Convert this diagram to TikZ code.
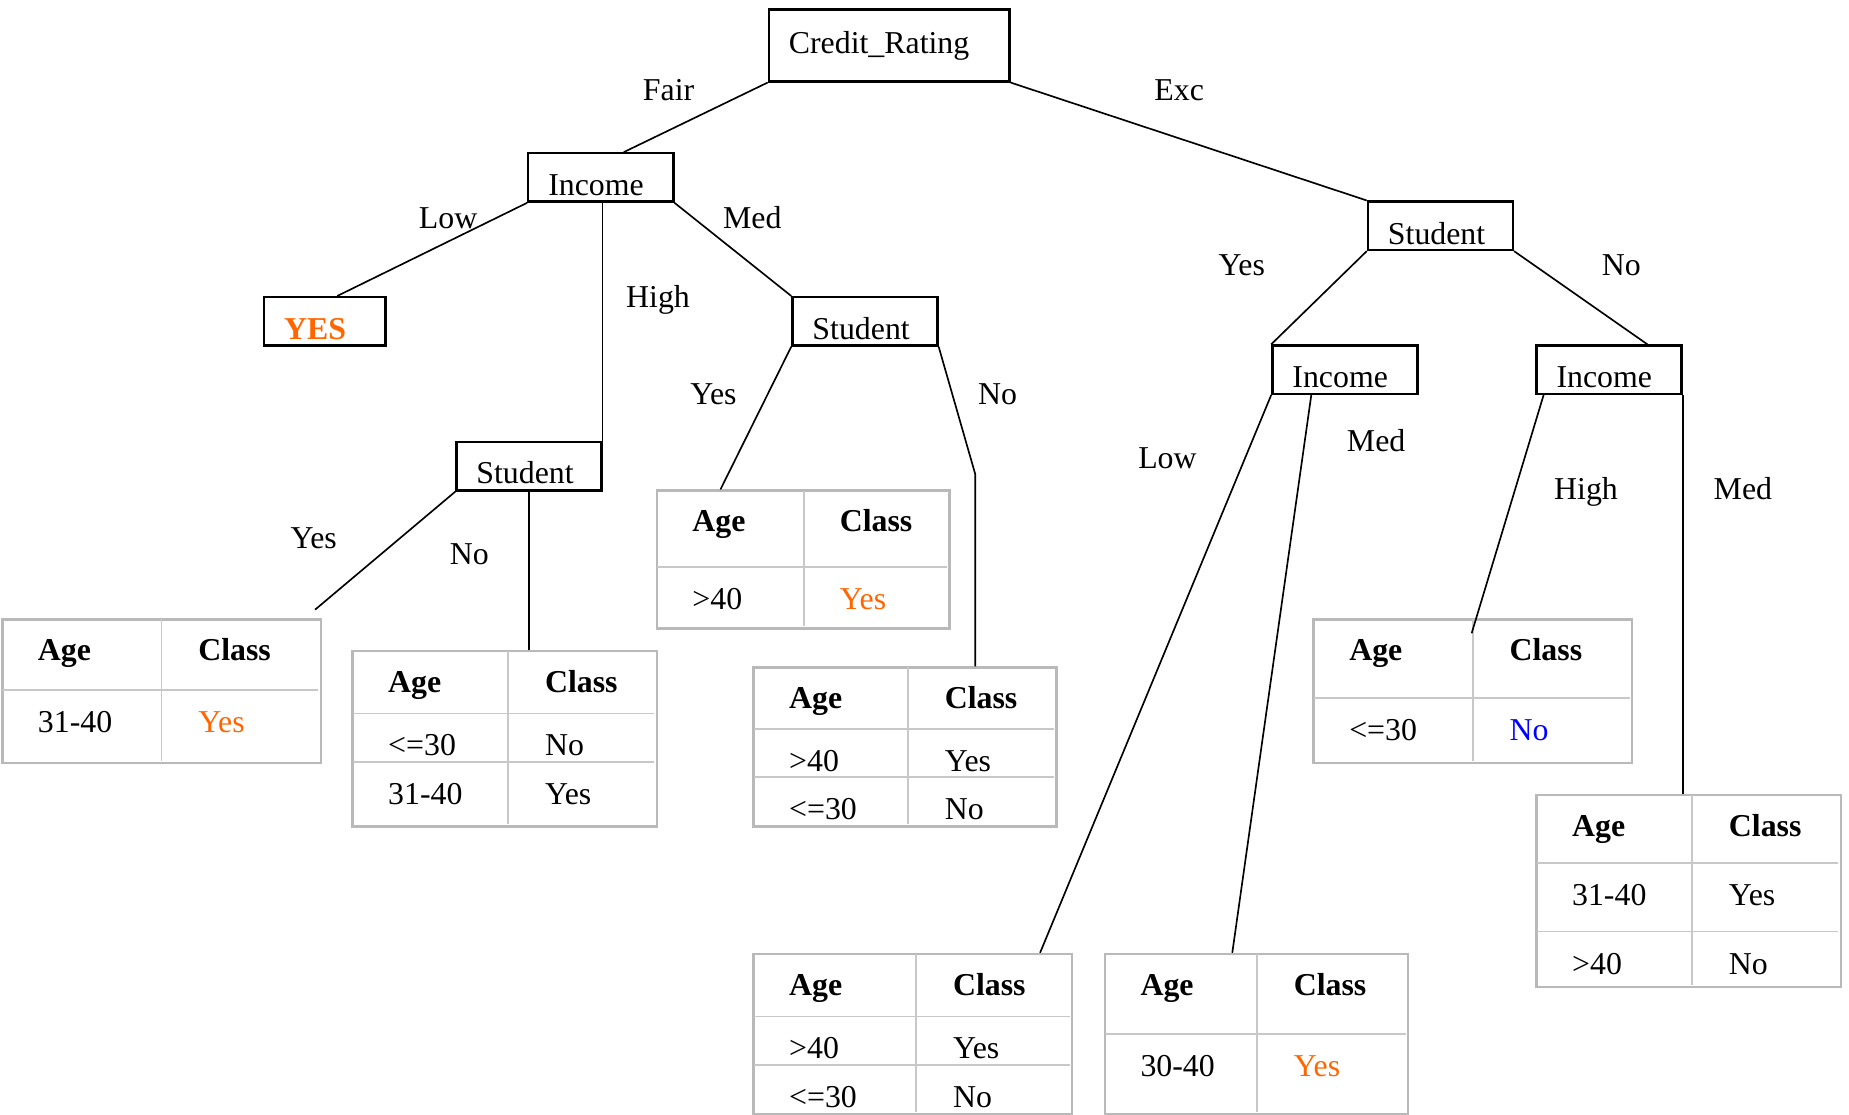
\documentclass[tikz,border=0pt]{standalone}
\usepackage{fontspec}
\setmainfont{Liberation Serif}
\usetikzlibrary{calc}
\definecolor{orng}{RGB}{255,102,0}
\definecolor{blu}{RGB}{0,0,255}
\definecolor{tgray}{RGB}{185,185,185}
\definecolor{tgrayl}{RGB}{200,200,200}
\tikzset{
  box/.style={draw, line width=2pt, inner xsep=17pt, inner ysep=0pt, anchor=base west, align=left},
  edge/.style={line width=1.4pt},
  lbl/.style={anchor=base, inner sep=0pt},
  tbl/.style={draw=tgray, line width=2.2pt, inner sep=0pt, anchor=north west},
  tline/.style={draw=tgrayl, line width=1.3pt},
  cell/.style={anchor=base west, inner sep=0pt},
  hdr/.style={cell, font=\fontsize{27}{32}\selectfont\bfseries},
}
\begin{document}
\begin{tikzpicture}[x=1pt, y=-1pt, font=\fontsize{27}{32}\selectfont]
\useasboundingbox (0,0) rectangle (1568,945);
% decision boxes
\node[box, text width=170pt, text height=37pt, text depth=24pt] (cr) at (651,45) {Credit\_Rating};
\node[box, text width=89pt, text height=36pt, text depth=5pt] (inc1) at (447,166) {Income};
\node[box, text width=69pt, text height=36pt, text depth=5pt, text=orng, font=\fontsize{27}{32}\selectfont\bfseries] (yes) at (223,288) {YES};
\node[box, text width=89pt, text height=36pt, text depth=5pt] (stu1) at (671,288) {Student};
\node[box, text width=89pt, text height=35pt, text depth=6pt] (stu2) at (386,410) {Student};
\node[box, text width=89pt, text height=36pt, text depth=5pt] (stu3) at (1159,207) {Student};
\node[box, text width=89pt, text height=36pt, text depth=5pt] (inc2) at (1078,329) {Income};
\node[box, text width=89pt, text height=36pt, text depth=5pt] (inc3) at (1302,329) {Income};

% tables
\node[tbl, minimum width=270pt, minimum height=122pt] (t1) at (1,524) {};
\node[tbl, minimum width=258pt, minimum height=149pt] (t2) at (298,551) {};
\node[tbl, minimum width=248pt, minimum height=117pt] (t3) at (556,415) {};
\node[tbl, minimum width=257pt, minimum height=135pt] (t4) at (638,565) {};
\node[tbl, minimum width=270pt, minimum height=136pt] (t5) at (638,808) {};
\node[tbl, minimum width=257pt, minimum height=136pt] (t6) at (936,808) {};
\node[tbl, minimum width=270pt, minimum height=122pt] (t7) at (1113,524) {};
\node[tbl, minimum width=258pt, minimum height=163pt] (t8) at (1302,673) {};

% table inner lines
\draw[tline] (137,525) -- (137,645) (2,585) -- (270,585);
\draw[tline] (431,552) -- (431,699) (299,605) -- (555,605) (299,646) -- (555,646);
\draw[tline] (682,416) -- (682,531) (557,481) -- (803,481);
\draw[tline] (770,566) -- (770,699) (639,618) -- (894,618) (639,659) -- (894,659);
\draw[tline] (777,809) -- (777,943) (639,862) -- (907,862) (639,903) -- (907,903);
\draw[tline] (1066,809) -- (1066,943) (937,877) -- (1192,877);
\draw[tline] (1249,525) -- (1249,645) (1114,592) -- (1382,592);
\draw[tline] (1435,674) -- (1435,835) (1303,732) -- (1559,732) (1303,790) -- (1559,790);

% table texts
\node[hdr] (t1a) at (32,560) {Age};
\node[hdr] (t1b) at (168,560) {Class};
\node[cell] (t1c) at (32,621) {31-40};
\node[cell, text=orng] (t1d) at (168,621) {Yes};

\node[hdr] (t2a) at (329,587) {Age};
\node[hdr] (t2b) at (462,587) {Class};
\node[cell] (t2c) at (329,641) {<=30};
\node[cell] (t2d) at (462,641) {No};
\node[cell] (t2e) at (329,682) {31-40};
\node[cell] (t2f) at (462,682) {Yes};

\node[hdr] (t3a) at (587,451) {Age};
\node[hdr] (t3b) at (712,451) {Class};
\node[cell] (t3c) at (587,517) {>40};
\node[cell, text=orng] (t3d) at (712,517) {Yes};

\node[hdr] (t4a) at (669,601) {Age};
\node[hdr] (t4b) at (801,601) {Class};
\node[cell] (t4c) at (669,654) {>40};
\node[cell] (t4d) at (801,654) {Yes};
\node[cell] (t4e) at (669,695) {<=30};
\node[cell] (t4f) at (801,695) {No};

\node[hdr] (t5a) at (669,844) {Age};
\node[hdr] (t5b) at (808,844) {Class};
\node[cell] (t5c) at (669,898) {>40};
\node[cell] (t5d) at (808,898) {Yes};
\node[cell] (t5e) at (669,939) {<=30};
\node[cell] (t5f) at (808,939) {No};

\node[hdr] (t6a) at (967,844) {Age};
\node[hdr] (t6b) at (1097,844) {Class};
\node[cell] (t6c) at (967,913) {30-40};
\node[cell, text=orng] (t6d) at (1097,913) {Yes};

\node[hdr] (t7a) at (1144,560) {Age};
\node[hdr] (t7b) at (1280,560) {Class};
\node[cell] (t7c) at (1144,628) {<=30};
\node[cell, text=blu] (t7d) at (1280,628) {No};

\node[hdr] (t8a) at (1333,709) {Age};
\node[hdr] (t8b) at (1466,709) {Class};
\node[cell] (t8c) at (1333,768) {31-40};
\node[cell] (t8d) at (1466,768) {Yes};
\node[cell] (t8e) at (1333,826) {>40};
\node[cell] (t8f) at (1466,826) {No};

% connectors
\coordinate (e8) at ($(t1.north east)+(-6,-7)$);
\coordinate (e7) at ($(t4.north west)+(189,-163)$);
\coordinate (e14) at ($(t7.north west)+(135,13)$);
\draw[edge] (cr.south west) -- ($(inc1.north west)+(82,0)$);
\draw[edge] (cr.south east) -- (stu3.north west);
\draw[edge] (inc1.south west) -- ($(yes.north west)+(63,0)$);
\draw[edge] (inc1.south -| stu2.north east) -- (stu2.north east);
\draw[edge] (inc1.south east) -- (stu1.north west);
\draw[edge] (stu1.south west) -- ($(t3.north west)+(55,0)$);
\draw[edge] (stu1.south east) -- (e7) -- ($(t4.north west)+(189,0)$);
\draw[edge] (stu2.south west) -- (e8);
\draw[edge] (stu2.south) -- (stu2.south |- t2.north);
\draw[edge] (stu3.south west) -- (inc2.north west);
\draw[edge] (stu3.south east) -- ($(inc3.north west)+(95,0)$);
\draw[edge] (inc2.south west) -- ($(t5.north west)+(244,0)$);
\draw[edge] ($(inc2.south west)+(34,0)$) -- ($(t6.north west)+(109,0)$);
\draw[edge] ($(inc3.south west)+(7,0)$) -- (e14);
\draw[edge] (inc3.south east) -- (inc3.south east |- t8.north);

% connector labels
\node[lbl] (l1) at (567,85) {Fair};
\node[lbl] (l2) at (1000,85) {Exc};
\node[lbl] (l3) at (380,194) {Low};
\node[lbl] (l4) at (558,261) {High};
\node[lbl] (l5) at (638,194) {Med};
\node[lbl] (l6) at (605,343) {Yes};
\node[lbl] (l7) at (846,343) {No};
\node[lbl] (l8) at (266,465) {Yes};
\node[lbl] (l9) at (398,479) {No};
\node[lbl] (l10) at (1053,234) {Yes};
\node[lbl] (l11) at (1375,234) {No};
\node[lbl] (l12) at (990,397) {Low};
\node[lbl] (l13) at (1167,383) {Med};
\node[lbl] (l14) at (1345,424) {High};
\node[lbl] (l15) at (1478,424) {Med};
\end{tikzpicture}
\end{document}
